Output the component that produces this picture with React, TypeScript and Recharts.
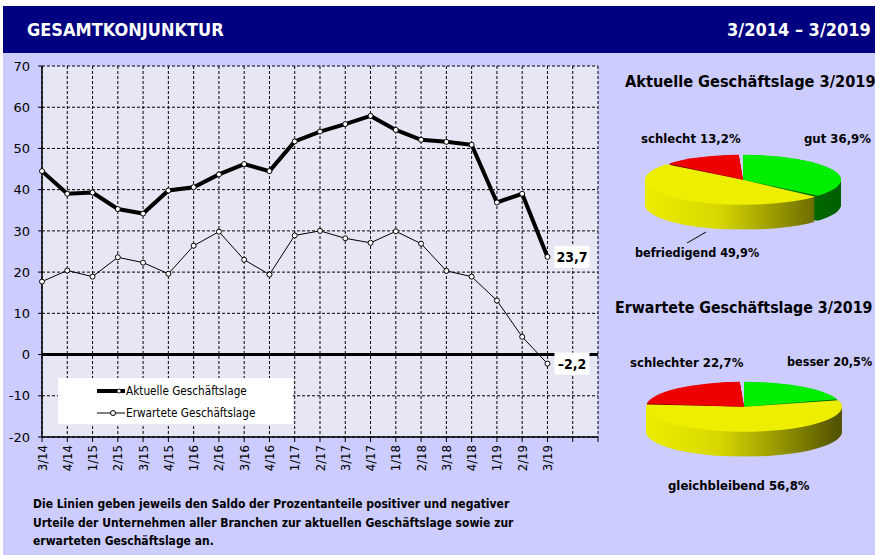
import React from 'react'
import { LineChart, Line, XAxis, YAxis, CartesianGrid, ReferenceLine, LabelList, PieChart, Pie, Cell } from 'recharts'

const quarters = ['3/14', '4/14', '1/15', '2/15', '3/15', '4/15', '1/16', '2/16', '3/16', '4/16', '1/17', '2/17', '3/17', '4/17', '1/18', '2/18', '3/18', '4/18', '1/19', '2/19', '3/19']
const aktuell = [44.5, 39.0, 39.3, 35.3, 34.2, 39.8, 40.6, 43.7, 46.2, 44.5, 51.7, 54.1, 55.9, 57.9, 54.5, 52.1, 51.6, 50.9, 36.9, 39.0, 23.7]
const erwartet = [17.7, 20.4, 18.9, 23.6, 22.3, 19.6, 26.4, 29.8, 23.0, 19.4, 28.9, 30.0, 28.2, 27.1, 29.9, 26.9, 20.3, 18.9, 13.1, 4.3, -2.2]
const emptySlots = 2
const yTicks = [-20, -10, 0, 10, 20, 30, 40, 50, 60, 70]

const aktuelleNames = ['gut', 'befriedigend', 'schlecht']
const aktuelleValues = [36.9, 49.9, 13.2]
const erwarteteNames = ['besser', 'gleichbleibend', 'schlechter']
const erwarteteValues = [20.5, 56.8, 22.7]

const FONT = "'Liberation Sans Narrow', 'DejaVu Sans Condensed', sans-serif"
const BG = '#ccccff'

const chartData = quarters.map((q, i) => ({ x: i, q, aktuell: aktuell[i], erwartet: erwartet[i] }))
const xTicks = Array.from({ length: quarters.length + emptySlots }, (_, i) => i)
const fmt = (v: number) => String(v).replace('.', ',').replace('-', '–')

const XTick = ({ x, y, payload }: any) => (
  <text
    transform={`translate(${x + 4.5},${y + 1}) rotate(-90)`}
    textAnchor='end'
    fontSize={13}
    fontFamily={FONT}
    fill='#000'
  >
    {quarters[payload.value] ?? ''}
  </text>
)

const EndLabel = (props: any) => {
  const { x, y, value, index } = props
  if (index !== quarters.length - 1) return null
  return (
    <g>
      <rect x={x + 7} y={y - 11} width={35} height={22} fill='#fff' />
      <text x={x + 24.5} y={y + 5} textAnchor='middle' fontWeight='bold' fontSize={14} fontFamily={FONT} fill='#000'>
        {fmt(value)}
      </text>
    </g>
  )
}

const sideDepth = 98
const squash = 0.255

function Pie3D({ id, names, values, left, top }: { id: string; names: string[]; values: number[]; left: number; top: number }) {
  const data = names.map((n, i) => ({ name: n, value: values[i] }))
  const topColors = ['#00ee00', '#eeee00', '#ee0000']
  const sideColors = [`url(#${id}g)`, `url(#${id}y)`, '#8a0000']
  const layers: number[] = []
  for (let d = sideDepth; d > 0; d -= 3) layers.push(d)
  return (
    <div style={{ position: 'absolute', left, top, width: 240, height: 300, transform: `scaleY(${squash})`, transformOrigin: '0 0' }}>
      <PieChart width={240} height={300}>
        <defs>
          <linearGradient id={`${id}y`} x1={22} x2={218} y1={0} y2={0} gradientUnits='userSpaceOnUse'>
            <stop offset='0' stopColor='#eeee00' />
            <stop offset='0.4' stopColor='#d8d800' />
            <stop offset='1' stopColor='#555500' />
          </linearGradient>
          <linearGradient id={`${id}g`} x1={22} x2={218} y1={0} y2={0} gradientUnits='userSpaceOnUse'>
            <stop offset='0' stopColor='#00aa00' />
            <stop offset='1' stopColor='#006000' />
          </linearGradient>
        </defs>
        {layers.map((d) => (
          <Pie
            key={d}
            data={data}
            dataKey='value'
            cx={120}
            cy={100 + d}
            outerRadius={98}
            startAngle={90}
            endAngle={-270}
            paddingAngle={2.5}
            stroke='none'
            isAnimationActive={false}
          >
            {data.map((_, i) => (
              <Cell key={i} fill={sideColors[i]} />
            ))}
          </Pie>
        ))}
        <Pie
          data={data}
          dataKey='value'
          cx={120}
          cy={100}
          outerRadius={98}
          startAngle={90}
          endAngle={-270}
          paddingAngle={2.5}
          stroke='none'
          isAnimationActive={false}
        >
          {data.map((_, i) => (
            <Cell key={i} fill={topColors[i]} />
          ))}
        </Pie>
      </PieChart>
    </div>
  )
}

const txt = (left: number, top: number, size: number, content: string, extra: React.CSSProperties = {}) => (
  <div style={{ position: 'absolute', left, top, fontSize: size, fontWeight: 'bold', fontFamily: FONT, whiteSpace: 'nowrap', lineHeight: 1, color: '#000', ...extra }}>
    {content}
  </div>
)

export default function App() {
  return (
    <div style={{ position: 'absolute', left: 0, top: 0, width: 875, height: 555, background: '#fff', overflow: 'hidden' }}>
      <div style={{ position: 'absolute', left: 3, top: 53, width: 872, height: 502, background: BG }} />
      <div style={{ position: 'absolute', left: 3, top: 6, width: 872, height: 47, background: '#000080' }} />
      {txt(27, 21, 18, 'GESAMTKONJUNKTUR', { color: '#fff' })}
      {txt(727, 21, 18, '3/2014 – 3/2019', { color: '#fff' })}

      <div style={{ position: 'absolute', left: 0, top: 0 }}>
        <LineChart width={600} height={480} data={chartData} margin={{ top: 66, right: 2, bottom: 0, left: 0 }}>
          <CartesianGrid stroke='#000' strokeDasharray='3 2' fill='#e6e6f4' />
          <XAxis
            type='number'
            dataKey='x'
            domain={[0, xTicks.length - 1]}
            ticks={xTicks}
            interval={0}
            height={43}
            tick={<XTick />}
            tickSize={5}
            axisLine={{ stroke: '#000', strokeWidth: 1.5 }}
            tickLine={{ stroke: '#000' }}
          />
          <YAxis
            domain={[-20, 70]}
            ticks={yTicks}
            interval={0}
            width={42}
            tickSize={4}
            tickMargin={8}
            tick={{ fill: '#000', fontSize: 13, fontFamily: 'DejaVu Sans, sans-serif' }}
            axisLine={{ stroke: '#000', strokeWidth: 1.5 }}
            tickLine={{ stroke: '#000' }}
          />
          <ReferenceLine y={0} stroke='#000' strokeWidth={3} />
          <Line
            dataKey='erwartet'
            stroke='#000'
            strokeWidth={1}
            dot={{ r: 2.5, fill: '#fff', stroke: '#000', strokeWidth: 1 }}
            isAnimationActive={false}
          >
            <LabelList dataKey='erwartet' content={<EndLabel />} />
          </Line>
          <Line
            dataKey='aktuell'
            stroke='#000'
            strokeWidth={4}
            dot={{ r: 2.5, fill: '#fff', stroke: '#000', strokeWidth: 1 }}
            isAnimationActive={false}
          >
            <LabelList dataKey='aktuell' content={<EndLabel />} />
          </Line>
        </LineChart>
      </div>

      <div style={{ position: 'absolute', left: 58, top: 378, width: 235, height: 46, background: '#fff' }}>
        <svg width={235} height={46}>
          <line x1={39} x2={67} y1={13} y2={13} stroke='#000' strokeWidth={4} />
          <circle cx={61} cy={13} r={2} fill='#fff' stroke='#000' strokeWidth={0.8} />
          <text x={68} y={17} fontSize={11.7} fontFamily={FONT}>Aktuelle Geschäftslage</text>
          <line x1={39} x2={67} y1={35} y2={35} stroke='#000' strokeWidth={1} />
          <circle cx={55} cy={35} r={2.5} fill='#fff' stroke='#000' strokeWidth={1} />
          <text x={68} y={39} fontSize={11.7} fontFamily={FONT}>Erwartete Geschäftslage</text>
        </svg>
      </div>

      {txt(625, 74, 16.2, 'Aktuelle Geschäftslage 3/2019')}
      <Pie3D id='a' names={aktuelleNames} values={aktuelleValues} left={618} top={152.5} />
      {txt(641, 132, 13, `${aktuelleNames[2]} ${fmt(aktuelleValues[2])}%`)}
      {txt(804, 132, 13, `${aktuelleNames[0]} ${fmt(aktuelleValues[0])}%`)}
      {txt(635, 247, 12.5, `${aktuelleNames[1]} ${fmt(aktuelleValues[1])}%`)}
      <svg style={{ position: 'absolute', left: 0, top: 0 }} width={875} height={555} pointerEvents='none'>
        <line x1={687} y1={243} x2={706} y2={232} stroke='#000' strokeWidth={1} />
      </svg>

      {txt(615, 300, 15.8, 'Erwartete Geschäftslage 3/2019')}
      <Pie3D id='e' names={erwarteteNames} values={erwarteteValues} left={619} top={379.5} />
      {txt(630, 356, 13, `${erwarteteNames[2]} ${fmt(erwarteteValues[2])}%`)}
      {txt(787, 356, 12.5, `${erwarteteNames[0]} ${fmt(erwarteteValues[0])}%`)}
      {txt(668, 479, 13, `${erwarteteNames[1]} ${fmt(erwarteteValues[1])}%`)}

      <div style={{ position: 'absolute', left: 33, top: 495, fontSize: 12, fontWeight: 'bold', fontFamily: FONT, lineHeight: '18.5px', color: '#000', width: 560 }}>
        Die Linien geben jeweils den Saldo der Prozentanteile positiver und negativer
        <br />
        Urteile der Unternehmen aller Branchen zur aktuellen Geschäftslage sowie zur
        <br />
        erwarteten Geschäftslage an.
      </div>
    </div>
  )
}
